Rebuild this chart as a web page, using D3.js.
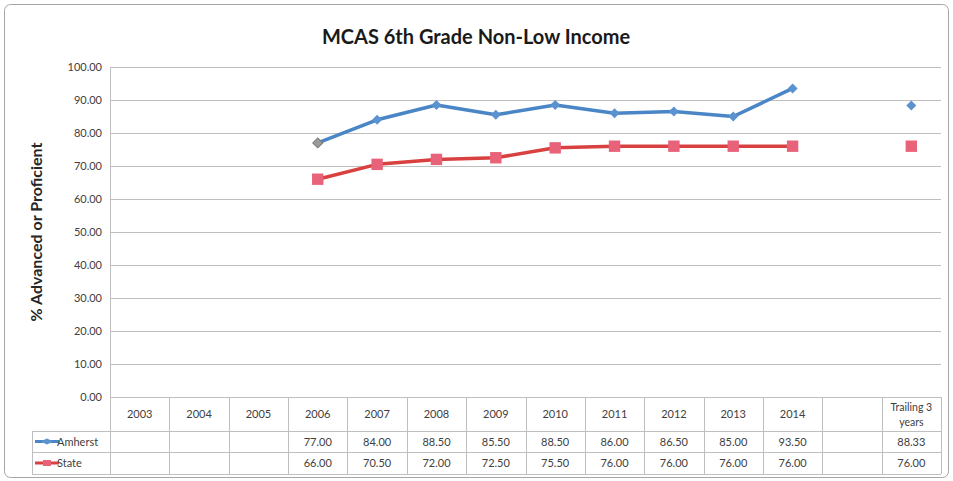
<!DOCTYPE html>
<html>
<head>
<meta charset="utf-8">
<script src="https://cdn.jsdelivr.net/npm/d3@7"></script>
<style>
  body { margin: 0; background: #fff; }
  svg { font-family: Lato, "Open Sans", sans-serif; }
</style>
</head>
<body>
<svg width="953" height="481"></svg>
<script>
//
// chart data
//
var categories = ['2003', '2004', '2005', '2006', '2007', '2008', '2009', '2010',
                  '2011', '2012', '2013', '2014', '', 'Trailing 3 years'];
var amherst = [null, null, null, 77.00, 84.00, 88.50, 85.50, 88.50, 86.00, 86.50, 85.00, 93.50, null, 88.33];
var state   = [null, null, null, 66.00, 70.50, 72.00, 72.50, 75.50, 76.00, 76.00, 76.00, 76.00, null, 76.00];
var yTicks = [0, 10, 20, 30, 40, 50, 60, 70, 80, 90, 100];

var series = [
  {name: 'Amherst', values: amherst, color: '#4a86c6', marker: '#5b93d0'},
  {name: 'State', values: state, color: '#d8413f', marker: '#e8627a'}
];

var svg = d3.select('svg'),
    width = +svg.attr('width'),
    height = +svg.attr('height');

var plotLeft = 110, plotRight = 941, plotTop = 67, plotBottom = 397;

// outer frame
svg.append('rect')
    .attr('x', 4.5).attr('y', 4.5)
    .attr('width', width - 9).attr('height', height - 8)
    .attr('rx', 6)
    .style('fill', '#fff')
    .style('stroke', '#a6a6a6');

var x = d3.scaleBand()
    .domain(categories.map(function(d, i) { return i; }))
    .range([plotLeft, plotRight]);

var y = d3.scaleLinear()
    .domain([0, 100])
    .range([plotBottom, plotTop]);

// gridlines
svg.append('g')
    .selectAll('line')
    .data(yTicks)
    .enter().append('line')
    .attr('x1', plotLeft).attr('x2', plotRight)
    .attr('y1', function(d) { return Math.round(y(d)) + 0.5; })
    .attr('y2', function(d) { return Math.round(y(d)) + 0.5; })
    .style('stroke', '#bfbfbf');

// y axis
svg.append('line')
    .attr('x1', plotLeft + 0.5).attr('x2', plotLeft + 0.5)
    .attr('y1', plotTop).attr('y2', plotBottom)
    .style('stroke', '#bfbfbf');

svg.append('g')
    .selectAll('text')
    .data(yTicks)
    .enter().append('text')
    .attr('x', plotLeft - 8)
    .attr('y', function(d) { return y(d) + 4; })
    .attr('text-anchor', 'end')
    .style('font-size', '11px')
    .style('fill', '#404040')
    .text(function(d) { return d.toFixed(2); });

svg.append('text')
    .attr('transform', 'translate(42,' + ((plotTop + plotBottom) / 2) + ') rotate(-90)')
    .attr('text-anchor', 'middle')
    .style('font-size', '16px')
    .style('font-weight', 'bold')
    .style('fill', '#262626')
    .text('% Advanced or Proficient');

// title
svg.append('text')
    .attr('x', 476).attr('y', 44)
    .attr('text-anchor', 'middle')
    .style('font-size', '20px')
    .style('font-weight', 'bold')
    .style('fill', '#1a1a1a')
    .text('MCAS 6th Grade Non-Low Income');

//
// data table below the plot
//
var rowH = [397, 431, 452, 474];
var legendLeft = 32;
var table = svg.append('g').style('stroke', '#bfbfbf').style('fill', 'none');

// horizontal lines
table.append('line').attr('x1', plotLeft).attr('x2', plotRight).attr('y1', rowH[0] + 0.5).attr('y2', rowH[0] + 0.5);
[1, 2, 3].forEach(function(r) {
  table.append('line').attr('x1', legendLeft).attr('x2', plotRight)
      .attr('y1', rowH[r] + 0.5).attr('y2', rowH[r] + 0.5);
});
// vertical lines
categories.forEach(function(c, i) {
  var xx = Math.round(x(i)) + 0.5;
  table.append('line').attr('x1', xx).attr('x2', xx).attr('y1', rowH[0]).attr('y2', rowH[3]);
});
table.append('line').attr('x1', plotRight + 0.5).attr('x2', plotRight + 0.5).attr('y1', rowH[0]).attr('y2', rowH[3]);
table.append('line').attr('x1', legendLeft + 0.5).attr('x2', legendLeft + 0.5).attr('y1', rowH[1]).attr('y2', rowH[3]);

// category labels
categories.forEach(function(c, i) {
  var cx = x(i) + x.bandwidth() / 2;
  if (c === 'Trailing 3 years') {
    var t = svg.append('text').attr('text-anchor', 'middle')
        .style('font-size', '10.5px').style('fill', '#404040');
    t.append('tspan').attr('x', cx).attr('y', 411).text('Trailing 3');
    t.append('tspan').attr('x', cx).attr('y', 426).text('years');
  } else {
    svg.append('text')
        .attr('x', cx).attr('y', 418)
        .attr('text-anchor', 'middle')
        .style('font-size', '11px')
        .style('fill', '#404040')
        .text(c);
  }
});

// diamond = square turned 45 degrees
var diamond = d3.symbol().type(d3.symbolSquare).size(50)();

// value rows
series.forEach(function(s, r) {
  var yy = (rowH[r + 1] + rowH[r + 2]) / 2 + 4;
  s.values.forEach(function(v, i) {
    if (v == null) return;
    svg.append('text')
        .attr('x', x(i) + x.bandwidth() / 2).attr('y', yy)
        .attr('text-anchor', 'middle')
        .style('font-size', '11px')
        .style('fill', '#404040')
        .text(v.toFixed(2));
  });
  // legend key
  var ly = (rowH[r + 1] + rowH[r + 2]) / 2;
  svg.append('line')
      .attr('x1', legendLeft + 3).attr('x2', legendLeft + 27)
      .attr('y1', ly).attr('y2', ly)
      .style('stroke', s.color).style('stroke-width', 3);
  if (r === 0) {
    svg.append('path')
        .attr('d', diamond)
        .attr('transform', 'translate(' + (legendLeft + 15) + ',' + ly + ') scale(1.3,0.6) rotate(45)')
        .style('fill', s.marker);
  } else {
    svg.append('rect')
        .attr('x', legendLeft + 11).attr('y', ly - 3)
        .attr('width', 8).attr('height', 6)
        .style('fill', s.marker);
  }
  svg.append('text')
      .attr('x', legendLeft + 25).attr('y', ly + 4)
      .style('font-size', '11px')
      .style('fill', '#404040')
      .text(s.name);
});

//
// lines and markers
//
var line = d3.line()
    .defined(function(d) { return d.v != null; })
    .x(function(d) { return x(d.i) + x.bandwidth() / 2; })
    .y(function(d) { return y(d.v); });

series.forEach(function(s, r) {
  var pts = s.values.map(function(v, i) { return {v: v, i: i}; });
  svg.append('path')
      .datum(pts)
      .attr('d', line)
      .style('fill', 'none')
      .style('stroke', s.color)
      .style('stroke-width', 3.5)
      .style('stroke-linejoin', 'round');

  var marks = svg.append('g').selectAll('path')
      .data(pts.filter(function(d) { return d.v != null; }))
      .enter().append('path')
      .attr('transform', function(d) {
        return 'translate(' + (x(d.i) + x.bandwidth() / 2) + ',' + y(d.v) + ')' + (r === 0 ? ' rotate(45)' : '');
      })
      .style('fill', function(d, k) { return (r === 0 && k === 0) ? '#9a9a9a' : s.marker; })
      .style('stroke', function(d, k) { return (r === 0 && k === 0) ? '#777' : 'none'; });

  if (r === 0) {
    marks.attr('d', diamond);
  } else {
    marks.attr('d', d3.symbol().type(d3.symbolSquare).size(130)());
  }
});
</script>
</body>
</html>
